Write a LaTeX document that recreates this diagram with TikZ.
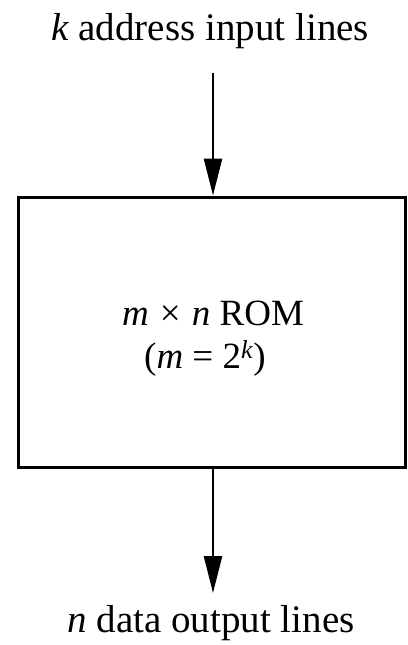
\documentclass[tikz,border=0pt]{standalone}
\usepackage{fontspec}
\setmainfont{Liberation Serif}
\usetikzlibrary{arrows.meta}
\begin{document}
\begin{tikzpicture}[x=1pt,y=-1pt,
  lbl/.style={font=\fontsize{39}{46}\selectfont, anchor=base, inner sep=0pt},
  romtxt/.style={font=\fontsize{37}{44}\selectfont, anchor=base, inner sep=0pt},
  rombox/.style={draw, line width=3pt, minimum width=387pt, minimum height=270pt, inner sep=0pt},
  arr/.style={line width=2.5pt, -{Triangle[length=37pt,width=18pt]}}]
\useasboundingbox (0,0) rectangle (407,645);
\node[lbl] (in) at (210,40) {\textit{k} address input lines};
\node[rombox] (rom) at (211.5,332) {};
\node[romtxt] (t1) at (213,325) {\textit{m}\hspace{0.3em}×\hspace{0.3em}\textit{n} ROM};
\node[romtxt] (t2) at (205,368) {(\textit{m} = 2\textsuperscript{\textit{k}})};
\node[lbl] (out) at (211,632) {\textit{n} data output lines};
\coordinate (a1) at (213,73);
\coordinate (a2) at (213,593);
\draw[arr] (a1) -- (a1 |- rom.north);
\draw[arr] (rom.south -| a2) -- (a2);
\end{tikzpicture}
\end{document}
